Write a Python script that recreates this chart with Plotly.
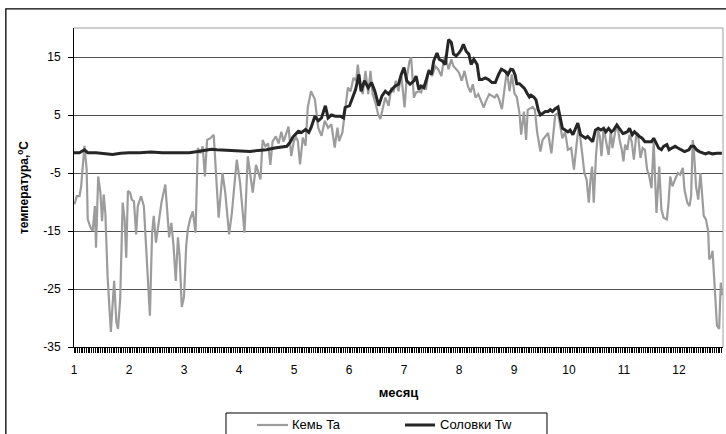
import plotly.graph_objects as go

# ── DATA (month position, temperature °C) ───────────────────────────────────
kem_month = [
    1.01, 1.05, 1.10, 1.13, 1.19, 1.23, 1.25, 1.30, 1.34, 1.38, 1.40, 1.44, 1.48, 1.51, 1.54,
    1.57, 1.61, 1.67, 1.73, 1.77, 1.80, 1.84, 1.885, 1.92, 1.95, 1.98, 2.02, 2.05, 2.09, 2.13,
    2.16, 2.22, 2.27, 2.30, 2.35, 2.38, 2.42, 2.45, 2.49, 2.53, 2.59, 2.66, 2.69, 2.73, 2.77,
    2.81, 2.85, 2.89, 2.92, 2.96, 3.00, 3.04, 3.07, 3.11, 3.16, 3.21, 3.25, 3.30, 3.34, 3.38,
    3.42, 3.48, 3.54, 3.57, 3.63, 3.70, 3.75, 3.82, 3.87, 3.92, 3.96, 4.02, 4.10, 4.16, 4.21,
    4.25, 4.31, 4.39, 4.43, 4.48, 4.53, 4.57, 4.61, 4.67, 4.72, 4.77, 4.81, 4.85, 4.90, 4.95,
    5.00, 5.04, 5.07, 5.11, 5.16, 5.21, 5.25, 5.31, 5.38, 5.44, 5.50, 5.56, 5.62, 5.68, 5.74,
    5.79, 5.82, 5.88, 5.93, 5.98, 6.03, 6.08, 6.13, 6.16, 6.21, 6.25, 6.30, 6.35, 6.39, 6.43,
    6.48, 6.53, 6.57, 6.61, 6.66, 6.72, 6.77, 6.81, 6.85, 6.90, 6.95, 7.01, 7.05, 7.10, 7.13,
    7.18, 7.22, 7.27, 7.31, 7.36, 7.40, 7.45, 7.51, 7.57, 7.62, 7.68, 7.72, 7.75, 7.81, 7.86,
    7.90, 7.95, 8.00, 8.05, 8.10, 8.16, 8.21, 8.25, 8.30, 8.35, 8.41, 8.45, 8.49, 8.55, 8.60,
    8.65, 8.69, 8.73, 8.78, 8.83, 8.87, 8.92, 8.96, 9.01, 9.05, 9.10, 9.13, 9.18, 9.22, 9.25,
    9.30, 9.34, 9.38, 9.42, 9.48, 9.52, 9.57, 9.62, 9.68, 9.72, 9.75, 9.80, 9.84, 9.88, 9.93,
    9.98, 10.04, 10.09, 10.15, 10.18, 10.24, 10.28, 10.32, 10.36, 10.39, 10.42, 10.45, 10.49,
    10.53, 10.56, 10.59, 10.63, 10.67, 10.72, 10.76, 10.79, 10.84, 10.88, 10.92, 10.96, 10.99,
    11.02, 11.06, 11.10, 11.14, 11.18, 11.22, 11.25, 11.30, 11.34, 11.38, 11.42, 11.46, 11.50,
    11.54, 11.59, 11.62, 11.64, 11.68, 11.72, 11.78, 11.81, 11.84, 11.88, 11.93, 11.98, 12.02,
    12.07, 12.10, 12.15, 12.19, 12.22, 12.25, 12.27, 12.31, 12.35, 12.39, 12.42, 12.45, 12.49,
    12.53, 12.55, 12.59, 12.61, 12.65, 12.69, 12.73, 12.76, 12.78,
]
kem_ta = [
    -10.4, -9, -9, -7.3, -0.3, -4.4, -13, -14.4, -15, -10.7, -17.9, -5.6, -8.4, -13.3, -8.7,
    -11.9, -22.7, -32.4, -23.6, -30.7, -31.9, -26.7, -10.1, -13, -19.6, -8.1, -8.4, -9.6, -9.9, -15.6,
    -10.7, -9, -10.7, -16.4, -24.4, -29.6, -15.3, -12.4, -17, -14.1, -10.1, -7, -10.7, -16.1, -13.6,
    -17.6, -23.6, -16.1, -19.3, -28.1, -26.4, -17.6, -14.7, -13, -11.6, -15.3, -0.7, -1.6, -0.4, -5.6,
    0.7, 1, 1.6, -2.7, -12.7, -5, -8.4, -15.6, -11.9, -6.7, -2.7, -6.7, -15.3, -2.1, -5.3,
    -8.4, -3.6, -6.1, 0.7, -0.4, 0.1, -3.6, 0.4, 1.3, 0.1, 2.1, 0.4, 1.6, 3, -2.1,
    0.6, 1.1, 0.5, -3.5, 1.1, -0.3, 6.3, 9.1, 7.7, 2.8, 1.4, 4, 2.8, 3.4, -0.6,
    2.8, 0.5, 2, 6.3, 9.7, 9.1, 11.4, 10.9, 13.7, 9.7, 8.6, 12.6, 8.6, 12.6, 8.6,
    7.1, 5.1, 4.3, 6, 8, 6.6, 9.7, 8.9, 10.9, 9.1, 12, 6.3, 11.4, 14.3, 14.9,
    8, 8.9, 9.1, 8.9, 10.3, 9.4, 12.9, 11.7, 13.4, 12.9, 11.7, 14.3, 15.2, 12.9, 14.6,
    13.4, 12.9, 12.3, 10.9, 12.6, 10, 8.9, 10.3, 8, 8.6, 7.4, 6.3, 7.4, 8.6, 8.3,
    8, 8.6, 7.7, 6, 10.3, 12.6, 9.1, 12, 8.7, 8.1, 5.3, 1.6, 5.6, 0.7, 5.9,
    6.1, 6.4, 5.9, 2.1, -1.3, 0.7, 1.3, 1.9, -1.6, 3, 5, 5.3, 3, 1, 2.1,
    -1, -0.7, -4.4, 1, 3, -1.6, -5, -6.1, -10.1, -6.1, -3.9, -10.1, -2.1,
    2.4, 1.3, -2.1, 2.7, 0.7, -1.9, 2.4, -0.7, 2.1, 3.3, 0.7, -1, -3,
    -0.1, -1, 1.6, 0.4, -2.7, 1.3, 1.9, -2.4, -0.7, -1, -4.4, -5.6, -7.6,
    0.4, -11.9, -7.3, -3.9, -11.3, -12.7, -13, -10.1, -5.6, -7.3, -6.1, -5, -5.3,
    -4.1, -7.9, -10.1, -10.7, -9, 0.7, -1, -7.3, -9.6, -5, -8.4, -12.4, -13,
    -15, -19.9, -19.3, -18.4, -25, -31.3, -31.9, -23.9, -26.1,
]

solovki_month = [
    1.00, 1.10, 1.19, 1.25, 1.40, 1.55, 1.70, 1.85, 2.00, 2.20, 2.40, 2.60, 2.80, 3.00, 3.10,
    3.25, 3.40, 3.50, 3.60, 3.75, 3.90, 4.05, 4.20, 4.35, 4.50, 4.65, 4.78, 4.87, 4.93, 4.98,
    5.03, 5.08, 5.14, 5.21, 5.27, 5.31, 5.38, 5.44, 5.50, 5.57, 5.62, 5.68, 5.75, 5.84, 5.90,
    5.93, 6.01, 6.05, 6.12, 6.18, 6.22, 6.28, 6.35, 6.41, 6.47, 6.54, 6.60, 6.66, 6.72, 6.78,
    6.84, 6.90, 6.95, 7.00, 7.05, 7.11, 7.18, 7.22, 7.27, 7.31, 7.36, 7.40, 7.45, 7.50, 7.54,
    7.60, 7.64, 7.70, 7.75, 7.81, 7.86, 7.90, 7.95, 8.00, 8.04, 8.08, 8.13, 8.18, 8.22, 8.27,
    8.33, 8.37, 8.42, 8.48, 8.54, 8.60, 8.66, 8.72, 8.77, 8.83, 8.89, 8.94, 8.98, 9.02, 9.05,
    9.10, 9.15, 9.19, 9.24, 9.28, 9.31, 9.36, 9.40, 9.44, 9.48, 9.52, 9.57, 9.62, 9.66, 9.70,
    9.75, 9.80, 9.84, 9.88, 9.93, 9.98, 10.02, 10.07, 10.12, 10.16, 10.21, 10.25, 10.30, 10.34,
    10.39, 10.43, 10.48, 10.53, 10.58, 10.63, 10.67, 10.72, 10.77, 10.81, 10.87, 10.93, 10.98,
    11.01, 11.06, 11.10, 11.15, 11.19, 11.24, 11.28, 11.33, 11.38, 11.44, 11.50, 11.54, 11.58,
    11.63, 11.68, 11.72, 11.78, 11.82, 11.87, 11.93, 11.98, 12.04, 12.10, 12.18, 12.22, 12.27,
    12.32, 12.37, 12.42, 12.48, 12.54, 12.61, 12.69, 12.78,
]
solovki_tw = [
    -1.5, -1.5, -1.0, -1.5, -1.5, -1.6, -1.8, -1.6, -1.5, -1.5, -1.4, -1.5, -1.5, -1.5, -1.5,
    -1.3, -1.1, -0.9, -1.0, -1.1, -1.2, -1.2, -1.3, -1.1, -1.0, -0.7, -0.5, -0.4, 0.3, 1.2,
    1.7, 2.2, 2.0, 2.5, 2.0, 2.8, 4.8, 4.0, 4.5, 6.6, 4.5, 5.0, 4.8, 4.8, 4.5,
    6.3, 6.6, 7.7, 9.4, 12.0, 9.1, 10.9, 9.7, 10.6, 9.1, 6.6, 8.3, 9.1, 8.6, 9.4,
    10.0, 10.3, 12.0, 13.2, 10.9, 10.3, 10.9, 11.7, 9.4, 10.0, 9.7, 10.9, 12.6, 12.0, 14.3,
    15.7, 14.6, 14.3, 13.7, 18.0, 17.5, 15.5, 15.2, 15.7, 16.3, 17.2, 16.0, 15.5, 13.7, 14.6,
    13.7, 11.1, 11.1, 11.4, 11.1, 10.6, 10.6, 12.0, 12.9, 12.6, 12.0, 12.9, 12.8, 11.9, 10.4,
    10.4, 9.9, 9.6, 8.7, 8.1, 8.4, 8.1, 7.6, 5.9, 5.0, 5.3, 5.6, 5.6, 5.9, 5.6,
    6.1, 6.4, 4.7, 2.7, 2.4, 2.1, 2.4, 1.6, 2.7, 3.6, 1.6, 1.3, 1.0, 1.3,
    0.7, 0.4, 2.4, 2.7, 2.4, 2.7, 2.1, 2.7, 2.1, 2.4, 3.3, 2.4, 1.8,
    1.9, 2.1, 2.7, 1.6, 2.1, 1.6, 1.3, 1.0, 0.4, 0.4, 0.4, 1.0, 0.1,
    -0.7, -1.0, -0.4, -0.1, -1.0, -0.7, -0.4, -0.7, -1.0, -1.3, -1.0, -0.4, -0.4,
    -1.0, -1.3, -1.5, -1.7, -1.5, -1.7, -1.6, -1.6,
]

temp_ticks = [-35, -25, -15, -5, 5, 15]
series_names = ["Кемь Ta", "Соловки Tw"]

FONT = "Liberation Sans, Arial, sans-serif"
KEM_LINE = dict(color="#9c9c9c", width=2.2)
SOL_LINE = dict(color="#262626", width=3)

# ── FIGURE ───────────────────────────────────────────────────────────────────
fig = go.Figure()
fig.add_trace(go.Scatter(x=kem_month, y=kem_ta, name=series_names[0], mode="lines", line=KEM_LINE))
fig.add_trace(go.Scatter(x=solovki_month, y=solovki_tw, name=series_names[1], mode="lines", line=SOL_LINE))

fig.update_layout(
    width=726, height=434,
    margin=dict(l=74, r=3, t=28, b=87),
    paper_bgcolor="white", plot_bgcolor="white",
    font=dict(family=FONT, size=12, color="black"),
    showlegend=False,
)

fig.update_xaxes(
    range=[1, 12.8], tickmode="linear", tick0=1, dtick=1,
    showgrid=False, zeroline=False,
    showline=True, linecolor="black", linewidth=1,
    ticks="outside", ticklen=5, tickcolor="black", ticklabelstandoff=7,
    minor=dict(tickmode="linear", dtick=1 / 31, tick0=1, ticks="outside", ticklen=5,
               tickcolor="black", showgrid=False),
    title=dict(text="<b>месяц</b>", standoff=11, font=dict(family=FONT, size=13)),
    automargin=False,
)
fig.update_yaxes(
    range=[-35, 20], tickvals=temp_ticks, ticktext=[str(t) for t in temp_ticks],
    showgrid=True, gridcolor="#505050", gridwidth=1, zeroline=False,
    showline=True, linecolor="black", linewidth=1,
    ticks="outside", ticklen=5, tickcolor="black", ticklabelstandoff=5,
    title=dict(text="<b>температура,<sup>o</sup>C</b>", standoff=12, font=dict(family=FONT, size=12)),
    automargin=False,
)

# plot-area border (grey top / right) and outer chart frame
fig.add_shape(type="line", xref="paper", yref="paper", x0=0, x1=1, y0=1, y1=1,
              line=dict(color="#a0a0a0", width=1))
fig.add_shape(type="line", xref="paper", yref="paper", x0=1, x1=1, y0=0, y1=1,
              line=dict(color="#a0a0a0", width=1))
fig.add_shape(type="rect", xref="paper", yref="paper", x0=-0.105, x1=1.03, y0=-0.4, y1=1.06,
              line=dict(color="black", width=1.3))

# legend box drawn by hand (Excel-style, cut by the bottom edge)
LEG_Y = -0.2445
fig.add_shape(type="rect", xref="paper", yref="paper", x0=0.2342, x1=0.7288, y0=-0.4, y1=-0.2069,
              line=dict(color="black", width=1))
for (x0, x1, tx), name, style in zip([(0.282, 0.3297, 0.3328), (0.510, 0.5562, 0.5609)],
                                      series_names, [KEM_LINE, SOL_LINE]):
    fig.add_shape(type="line", xref="paper", yref="paper", x0=x0, x1=x1, y0=LEG_Y, y1=LEG_Y,
                  line=style)
    fig.add_annotation(text=name, xref="paper", yref="paper", x=tx, y=LEG_Y,
                       xanchor="left", yanchor="middle", showarrow=False,
                       font=dict(family=FONT, size=13, color="black"))

fig.write_html("out.html", config={"displayModeBar": False},
               post_script="document.body.style.margin='0';")
